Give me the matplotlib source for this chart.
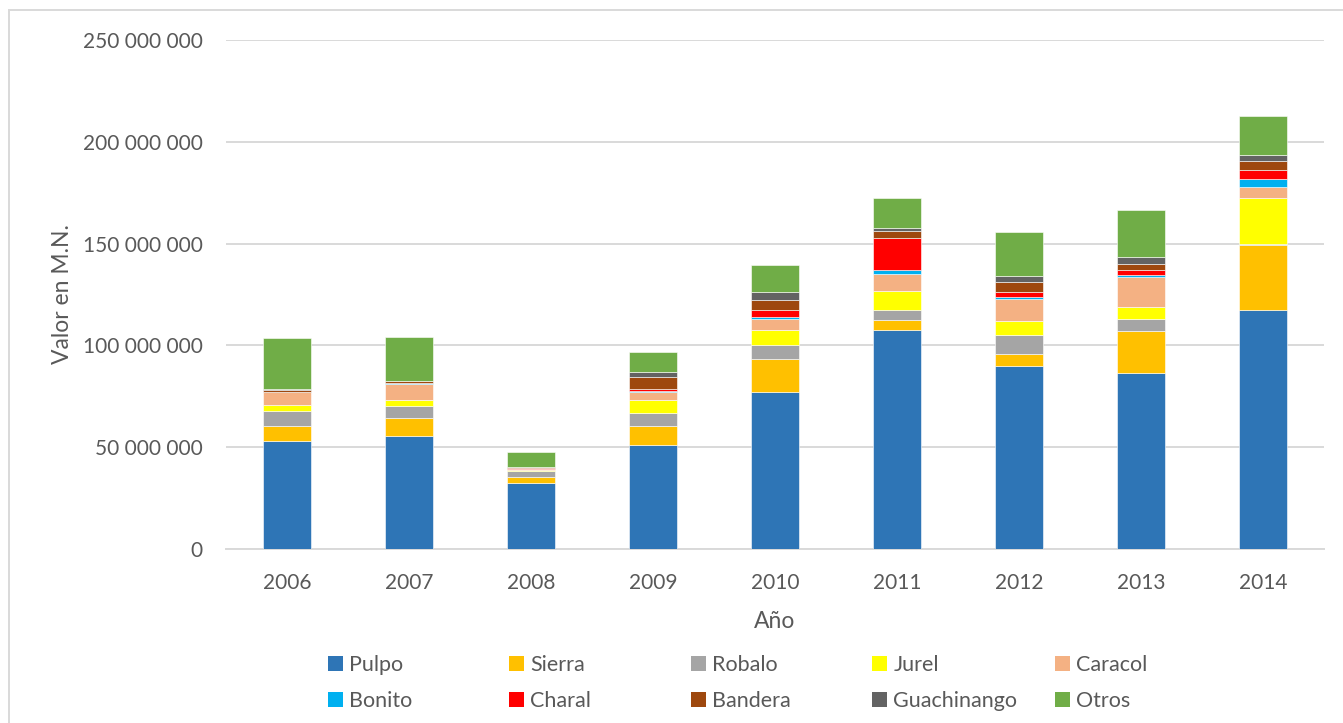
import numpy as np
import matplotlib.pyplot as plt
from matplotlib.patches import Rectangle

plt.rcParams['font.family'] = ['Lato', 'DejaVu Sans']

# datos (millones de pesos)
anios = ['2006', '2007', '2008', '2009', '2010', '2011', '2012', '2013', '2014']
especies = ['Pulpo', 'Sierra', 'Robalo', 'Jurel', 'Caracol',
            'Bonito', 'Charal', 'Bandera', 'Guachinango', 'Otros']

pulpo = [52.8, 55.6, 32.2, 51.3, 77.3, 107.8, 89.7, 86.6, 117.6]
sierra = [7.7, 8.7, 3.4, 9.2, 16.2, 4.7, 6.0, 20.6, 31.9]
robalo = [7.5, 5.7, 2.5, 6.5, 6.9, 5.1, 9.5, 5.9, 0.3]
jurel = [2.8, 3.3, 0.5, 6.1, 7.0, 9.3, 6.7, 5.7, 22.5]
caracol = [6.2, 7.9, 0.5, 3.9, 5.7, 8.2, 10.9, 15.0, 5.7]
bonito = [0.1, 0.1, 0.2, 0.8, 1.0, 2.0, 1.0, 0.8, 3.8]
charal = [0.1, 0.1, 0.5, 1.0, 3.1, 15.5, 2.3, 2.5, 4.4]
bandera = [1.1, 1.1, 0.3, 5.7, 4.9, 3.6, 5.1, 3.1, 4.6]
guachinango = [0.2, 0.2, 0.2, 2.3, 3.9, 1.6, 3.1, 3.3, 2.6]
otros = [24.9, 21.6, 7.4, 10.1, 13.6, 14.6, 21.2, 22.9, 19.4]

series = [pulpo, sierra, robalo, jurel, caracol, bonito, charal, bandera, guachinango, otros]
colores = ['#2E75B6', '#FFC000', '#A5A5A5', '#FFFF00', '#F4B183',
           '#00B0F0', '#FF0000', '#9E480E', '#636363', '#70AD47']

gris = '#595959'

fig = plt.figure(figsize=(13.43, 7.23), dpi=100)
ax = fig.add_axes([226 / 1343, 1 - 549 / 723, 1098 / 1343, 509 / 723])

x = np.arange(len(anios))
base = np.zeros(len(anios))
barras = []
for nombre, vals, col in zip(especies, series, colores):
    v = np.array(vals) * 1e6
    b = ax.bar(x, v, 0.4, bottom=base, color=col, label=nombre,
               edgecolor='white', linewidth=0.4, zorder=3)
    barras.append(b)
    base += v

ax.set_xlim(-0.5, len(anios) - 0.5)
ax.set_ylim(0, 250e6)
ax.set_yticks(np.arange(0, 250e6 + 1, 50e6))
ax.set_yticklabels([f'{int(t):,}'.replace(',', ' ') for t in ax.get_yticks()])
ax.set_xticks(x)
ax.set_xticklabels(anios)
ax.tick_params(axis='both', length=0, labelsize=15, labelcolor=gris)
ax.tick_params(axis='y', pad=17)
ax.tick_params(axis='x', pad=17)

ax.grid(axis='y', color='#D9D9D9', linewidth=1.4, zorder=0)
for s in ['top', 'right', 'left']:
    ax.spines[s].set_visible(False)
ax.spines['bottom'].set_color('#D9D9D9')
ax.spines['bottom'].set_linewidth(1.4)

ax.set_ylabel('Valor en M.N.', fontsize=16.5, color=gris)
ax.yaxis.set_label_coords(-0.139, 0.5)
ax.set_xlabel('Año', fontsize=16.5, color=gris, va='center')
ax.xaxis.set_label_coords(0.5, -0.142)

# leyenda: 5 columnas de igual ancho, 2 filas
col_x = [317, 498, 680, 861, 1044]
for i in range(5):
    leg = fig.legend([barras[i], barras[i + 5]], [especies[i], especies[i + 5]],
                     loc='upper left', bbox_to_anchor=(col_x[i] / 1343, 1 - 644 / 723),
                     frameon=False, fontsize=15.5, labelcolor=gris,
                     handlelength=0.7, handleheight=0.7, handletextpad=0.3,
                     labelspacing=0.75, borderpad=0)
    for h in leg.legend_handles:
        h.set_linewidth(0)

# marco del grafico
fig.patches.append(Rectangle((9 / 1343, -0.1), 1.2, 1.1 - 10 / 723,
                             transform=fig.transFigure, fill=False,
                             edgecolor='#D9D9D9', linewidth=1.4))

fig.savefig('out.png', dpi=100)
